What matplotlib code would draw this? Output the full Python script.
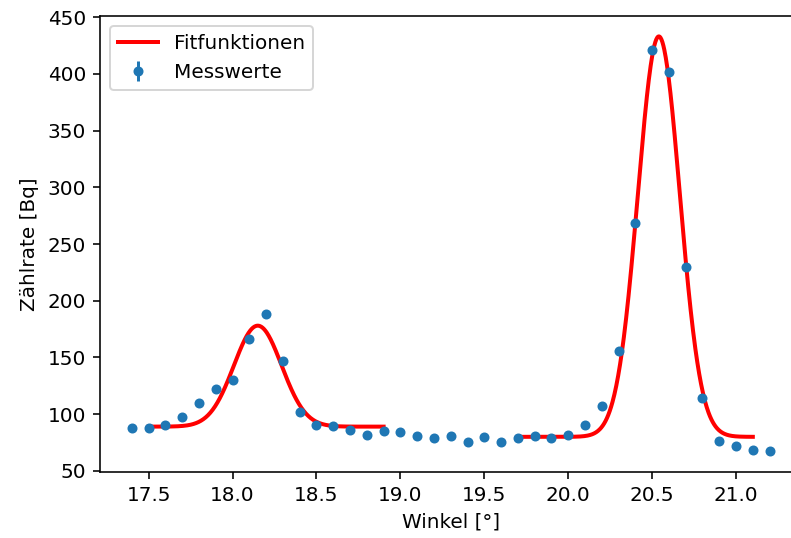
import numpy as np
import matplotlib.pyplot as plt

# Messwerte
winkel = [17.4, 17.5, 17.6, 17.7, 17.8, 17.9, 18.0, 18.1, 18.2, 18.3,
          18.4, 18.5, 18.6, 18.7, 18.8, 18.9, 19.0, 19.1, 19.2, 19.3,
          19.4, 19.5, 19.6, 19.7, 19.8, 19.9, 20.0, 20.1, 20.2, 20.3,
          20.4, 20.5, 20.6, 20.7, 20.8, 20.9, 21.0, 21.1, 21.2]
rate = [88, 88, 90.5, 97.5, 110, 122, 130, 166, 188.5, 147,
        102, 90.5, 89.5, 86, 81.5, 85, 84, 81, 79, 81,
        75.5, 79.5, 75.5, 79, 81, 79, 81.5, 90.5, 107, 156,
        268.5, 421, 402, 229.5, 114.5, 76, 72, 68, 67.5]
fehler = [0.5] * len(rate)

# Fitparameter (Gauss + Untergrund): A, mu, sigma, offset, Bereich
fit1 = (89.0, 18.15, 0.142, 89.0, 17.5, 18.9)
fit2 = (353.0, 20.54, 0.125, 80.0, 19.7, 21.1)


def gauss(x, a, mu, sigma, c):
    return a * np.exp(-(x - mu) ** 2 / (2 * sigma ** 2)) + c


fig = plt.figure(figsize=(791 / 144, 538 / 144), dpi=144)
ax = fig.add_axes([100 / 791, 1 - 472 / 538, 701.5 / 791, 456 / 538])

for i, (a, mu, s, c, x0, x1) in enumerate([fit1, fit2]):
    x = np.linspace(x0, x1, 500)
    ax.plot(x, gauss(x, a, mu, s, c), color='red', lw=2,
            label='Fitfunktionen' if i == 0 else None)

ax.errorbar(winkel, rate, yerr=fehler, fmt='o', ms=4, color='#1f77b4',
            label='Messwerte')

ax.set_xlim(17.21, 21.39)
ax.set_ylim(49, 451)
ax.set_xlabel('Winkel [°]')
ax.set_ylabel('Zählrate [Bq]')
ax.legend(loc='upper left')

fig.savefig('out.png', dpi=144)
